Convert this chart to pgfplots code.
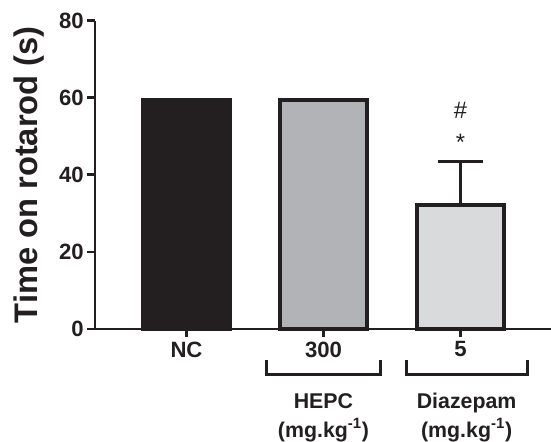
\documentclass[border=0pt]{standalone}
\usepackage{pgfplots}
\pgfplotsset{compat=1.18}
\usepackage{fontspec}
\setmainfont{Liberation Sans}
\usetikzlibrary{calc}
\definecolor{ink}{HTML}{231F20}
\definecolor{ncfill}{HTML}{231F20}
\definecolor{hepcfill}{HTML}{B1B3B6}
\definecolor{diazfill}{HTML}{D9DADB}
\begin{document}
\begin{tikzpicture}
\begin{axis}[
  name=ax, at={(0,0)}, anchor=south west,
  scale only axis, width=342pt, height=231.25pt,
  xmin=-0.668, xmax=2.661, ymin=0, ymax=80,
  axis x line*=bottom, axis y line*=left,
  axis line style={line width=2.1pt, ink},
  tick align=outside, major tick length=6pt,
  tick style={line width=2.1pt, ink},
  ytick={0,20,40,60,80},
  xtick={0,1,2}, xticklabels={NC,300,5},
  /pgf/number format/assume math mode=true,
  tick label style={font=\fontsize{16.6}{19}\selectfont\bfseries, text=ink},
  yticklabel style={xshift=1pt},
  ylabel={Time on rotarod (s)},
  every axis y label/.style={at={(axis description cs:0,0.5)}, xshift=-42.75pt, rotate=90, anchor=base, font=\fontsize{24.5}{29}\selectfont\bfseries, text=ink},
  clip=false,
]
\addplot[ybar, bar shift=0pt, bar width=0.64, fill=ncfill, draw=ncfill, line width=3pt] coordinates {(0,59.4)};
\addplot[ybar, bar shift=0pt, bar width=0.64, fill=hepcfill, draw=ink, line width=3pt] coordinates {(1,59.4)};
\addplot[ybar, bar shift=0pt, bar width=0.64, fill=diazfill, draw=ink, line width=3pt,
  error bars/.cd, y dir=plus, y explicit,
  error bar style={line width=2.1pt, ink},
  error mark options={rotate=90, mark size=16.9pt, line width=2.3pt, ink}]
  coordinates {(2,32.1) +- (0,11.3)};
\node[anchor=base, font=\fontsize{17.8}{20}\selectfont, text=ink] at (axis cs:2,54.5) {\#};
\node[anchor=base, font=\fontsize{17.8}{20}\selectfont, text=ink] at (axis cs:2,46.2) {*};
\draw[line width=2.3pt, ink] (axis cs:0.585,-8.1) -- (axis cs:0.585,-11.7) -- (axis cs:1.414,-11.7) -- (axis cs:1.414,-8.1);
\draw[line width=2.3pt, ink] (axis cs:1.604,-8.1) -- (axis cs:1.604,-11.7) -- (axis cs:2.487,-11.7) -- (axis cs:2.487,-8.1);
\node[anchor=base, font=\fontsize{16}{19}\selectfont\bfseries, text=ink] at (axis cs:1,-20.7) {HEPC};
\node[anchor=base, font=\fontsize{16}{19}\selectfont\bfseries, text=ink] at (axis cs:1,-28.1) {(mg.kg\textsuperscript{-1})};
\node[anchor=base, font=\fontsize{16}{19}\selectfont\bfseries, text=ink] at (axis cs:2.045,-20.7) {Diazepam};
\node[anchor=base, font=\fontsize{16}{19}\selectfont\bfseries, text=ink] at (axis cs:2.045,-28.1) {(mg.kg\textsuperscript{-1})};
\end{axis}
\pgfresetboundingbox
\path[use as bounding box] ($(ax.south west)+(-71.25pt,-84.75pt)$) rectangle ($(ax.south west)+(342pt,246.75pt)$);
\end{tikzpicture}
\end{document}
